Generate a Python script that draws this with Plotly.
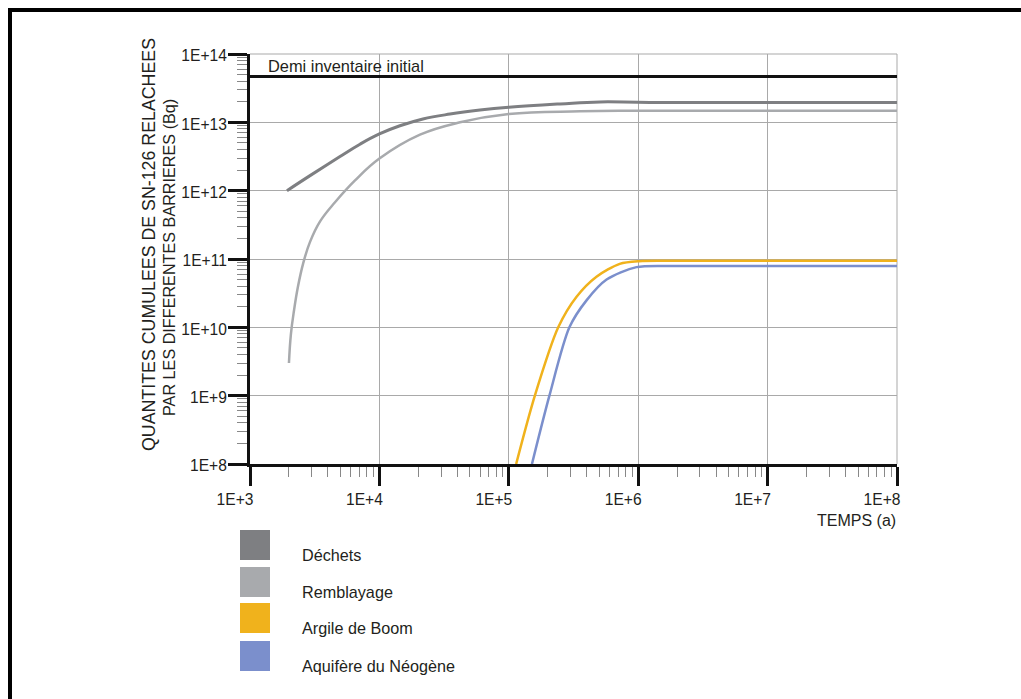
import plotly.graph_objects as go

# Time (years) and cumulative Sn-126 activity released (Bq) for each barrier
dechets_t = [1.93e3, 2.91e3, 4.96e3, 7.08e3, 1.0e4, 1.44e4, 2.17e4, 3.51e4, 5.99e4, 1.0e5,
             2.49e5, 5.07e5, 1.23e6, 1.0e8]
dechets_q = [1.0e12, 1.66e12, 3.16e12, 4.79e12, 6.76e12, 8.9e12, 1.12e13, 1.32e13, 1.51e13, 1.66e13,
             1.86e13, 1.99e13, 1.95e13, 1.95e13]

remblayage_t = [2.0e3, 2.07e3, 2.19e3, 2.35e3, 2.57e3, 2.91e3, 3.48e3, 4.54e3, 6.48e3, 1.0e4,
                2.06e4, 4.2e4, 1.0e5, 3.55e5, 1.0e6, 1.0e8]
remblayage_q = [3.0e9, 7.9e9, 1.78e10, 3.98e10, 8.5e10, 1.78e11, 3.55e11, 6.76e11, 1.41e12, 2.95e12,
                6.6e12, 1.0e13, 1.32e13, 1.45e13, 1.48e13, 1.48e13]

argile_t = [1.14e5, 1.59e5, 2.41e5, 3.34e5, 4.76e5, 7.2e5, 1.02e6, 2.0e6, 1.0e8]
argile_q = [1.0e8, 1.0e9, 1.0e10, 2.8e10, 5.5e10, 8.5e10, 9.3e10, 9.4e10, 9.4e10]

aquifere_t = [1.51e5, 2.06e5, 2.94e5, 4.0e5, 5.7e5, 9.7e5, 2.0e6, 1.0e8]
aquifere_q = [1.0e8, 1.0e9, 1.0e10, 2.5e10, 5.0e10, 7.6e10, 7.9e10, 7.9e10]

# Half of the initial inventory
demi_inventaire = 4.7e13
temps_limites = [1.0e3, 1.0e8]

x_tickvals = [1e3, 1e4, 1e5, 1e6, 1e7, 1e8]
x_ticktext = ["1E+3", "1E+4", "1E+5", "1E+6", "1E+7", "1E+8"]
y_tickvals = [1e8, 1e9, 1e10, 1e11, 1e12, 1e13, 1e14]
y_ticktext = ["1E+8", "1E+9", "1E+10", "1E+11", "1E+12", "1E+13", "1E+14"]

series_names = ["Déchets", "Remblayage", "Argile de Boom", "Aquifère du Néogène"]
series_colors = ["#7e7f82", "#a8aaad", "#f0b21c", "#7b8fcc"]

W, H = 1021, 699
L, R, T, B = 250, 897, 54, 464
FONT = "Liberation Sans, Arial, sans-serif"
TXT = "#231f20"


def px(x):
    return (x - L) / (R - L)


def py(y):
    return (B - y) / (B - T)


fig = go.Figure()

fig.add_trace(go.Scatter(x=temps_limites, y=[demi_inventaire, demi_inventaire], mode="lines",
                         line=dict(color="#111111", width=3), hoverinfo="skip"))

data = [(dechets_t, dechets_q, 3, 1.2), (remblayage_t, remblayage_q, 2.5, 1.2),
        (argile_t, argile_q, 2.5, 0.8), (aquifere_t, aquifere_q, 2.5, 0.8)]
for (t, q, w, s), name, col in zip(data, series_names, series_colors):
    fig.add_trace(go.Scatter(x=t, y=q, mode="lines", name=name,
                             line=dict(color=col, width=w, shape="spline", smoothing=s)))

axis_common = dict(
    type="log", showline=True, linecolor="#111111", linewidth=3,
    showgrid=True, gridcolor="#a9a9a9", gridwidth=1,
    ticks="outside", ticklen=19, tickwidth=3, tickcolor="#111111",
    tickfont=dict(family=FONT, size=15.6, color=TXT),
    minor=dict(dtick="D1", ticks="outside", ticklen=10, tickwidth=1,
               tickcolor="#888888", showgrid=False),
    zeroline=False,
)

fig.update_xaxes(range=[3, 8], tickmode="array", tickvals=x_tickvals, ticktext=x_ticktext,
                 ticklabelshift=-15, **axis_common)
fig.update_yaxes(range=[8, 14], tickmode="array", tickvals=y_tickvals, ticktext=y_ticktext,
                 ticklabelshift=2, ticklabelstandoff=-2, **axis_common)

shapes = [
    # upper and right plot border
    dict(type="line", xref="paper", yref="paper", x0=0, x1=1, y0=1, y1=1,
         line=dict(color="#a9a9a9", width=1), layer="below"),
    dict(type="line", xref="paper", yref="paper", x0=1, x1=1, y0=0, y1=1,
         line=dict(color="#a9a9a9", width=1), layer="below"),
    # outer frame
    dict(type="rect", xref="paper", yref="paper", x0=px(10), x1=px(1060), y0=py(10), y1=py(740),
         line=dict(color="#000000", width=4)),
]

annotations = [
    dict(text="Demi inventaire initial", xref="paper", yref="paper", x=px(266), y=py(66),
         xanchor="left", yanchor="middle", showarrow=False,
         font=dict(family=FONT, size=16.4, color=TXT)),
    dict(text="TEMPS (a)", xref="paper", yref="paper", x=px(898), y=py(520),
         xanchor="right", yanchor="middle", showarrow=False,
         font=dict(family=FONT, size=16, color=TXT)),
    dict(text="QUANTITES CUMULEES DE SN-126 RELACHEES", xref="paper", yref="paper",
         x=px(149), y=py(245), textangle=-90, xanchor="center", yanchor="middle",
         showarrow=False, font=dict(family=FONT, size=17.8, color=TXT)),
    dict(text="PAR LES DIFFERENTES BARRIERES (Bq)", xref="paper", yref="paper",
         x=px(169), y=py(258), textangle=-90, xanchor="center", yanchor="middle",
         showarrow=False, font=dict(family=FONT, size=16.2, color=TXT)),
]

# legend: colour squares with labels
leg_top = [530, 567, 603, 641]
for top, name, col in zip(leg_top, series_names, series_colors):
    shapes.append(dict(type="rect", xref="paper", yref="paper", x0=px(240), x1=px(270),
                       y0=py(top), y1=py(top + 30), fillcolor=col, line=dict(width=0)))
    annotations.append(dict(text=name, xref="paper", yref="paper", x=px(300), y=py(top + 25),
                            xanchor="left", yanchor="middle", showarrow=False,
                            font=dict(family=FONT, size=16.2, color=TXT)))

fig.update_layout(
    width=W, height=H,
    margin=dict(l=L, r=W - R, t=T, b=H - B),
    paper_bgcolor="white", plot_bgcolor="white",
    showlegend=False,
    shapes=shapes, annotations=annotations,
    font=dict(family=FONT, color=TXT),
)

fig.write_html("out.html")
